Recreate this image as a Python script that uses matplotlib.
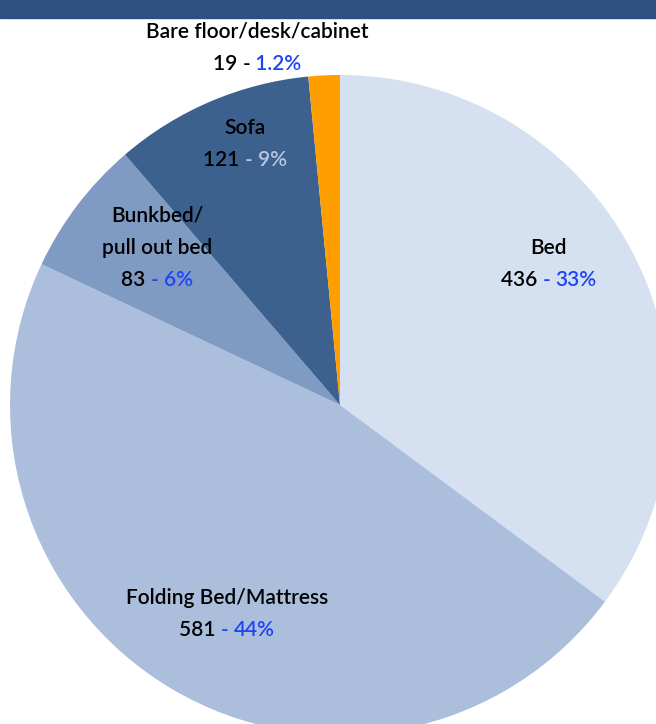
import matplotlib
matplotlib.use("Agg")
import matplotlib.pyplot as plt
from matplotlib.patches import Rectangle
from matplotlib.offsetbox import TextArea, HPacker, VPacker, AnnotationBbox

# Data (clockwise from 12 o'clock)
categories = ["Bed", "Folding Bed/Mattress", "Bunkbed/\npull out bed", "Sofa", "Bare floor/desk/cabinet"]
counts = [436, 581, 83, 121, 19]
pct_labels = ["33%", "44%", "6%", "9%", "1.2%"]
colors = ["#D5E0F0", "#ABBEDC", "#7F9BC4", "#3D618F", "#FF9E00"]
pct_colors = ["#1F44F5", "#1F44F5", "#1F44F5", "#B7C6DE", "#1F44F5"]

plt.rcParams['font.family'] = ['Lato', 'DejaVu Sans']

W, H = 656, 724
fig = plt.figure(figsize=(W / 100, H / 100), dpi=100)
ax = fig.add_axes([0, 0, 1, 1])

# pie center / radius in pixel units
cx, cy, r = 340, H - 405, 330
ax.pie(counts, colors=colors, startangle=90, counterclock=False,
       center=(cx, cy), radius=r, wedgeprops=dict(linewidth=0))

ax.set_xlim(0, W)
ax.set_ylim(0, H)
ax.set_aspect('auto')
ax.axis('off')

# header bar
ax.add_patch(Rectangle((0, H - 18), W, 18, color="#2E4F80", clip_on=False))

# label positions (pixels from top-left)
label_pos = [(549, 264), (227, 614), (157, 248), (245, 144), (257, 48)]
fs = 15
tp = dict(fontsize=fs, fontweight="semibold")

for i, cat in enumerate(categories):
    x, y = label_pos[i]
    dash_color = "black" if i == 4 else pct_colors[i]
    lines = [TextArea(line, textprops=dict(tp, color="black"))
             for line in cat.split("\n")]
    num_row = HPacker(children=[
        TextArea(f"{counts[i]} ", textprops=dict(tp, color="black")),
        TextArea("- " if i != 4 else "-", textprops=dict(tp, color=dash_color)),
        TextArea((" " if i == 4 else "") + pct_labels[i], textprops=dict(tp, color=pct_colors[i])),
    ], sep=0, pad=0, align="baseline")
    box = VPacker(children=[VPacker(children=lines, sep=9, pad=0, align="center"), num_row],
                  sep=9, pad=0, align="center")
    ab = AnnotationBbox(box, (x, H - y), frameon=False, box_alignment=(0.5, 0.5))
    ax.add_artist(ab)

fig.savefig("out.png", dpi=100)
